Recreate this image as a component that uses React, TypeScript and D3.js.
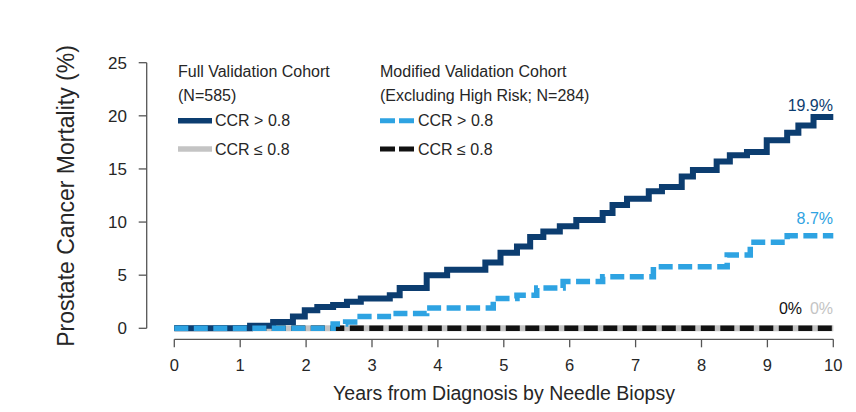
import React from "react";
import * as d3 from "d3";

// ---- Data ----
const xTicks = [0, 1, 2, 3, 4, 5, 6, 7, 8, 9, 10];
const yTicks = [0, 5, 10, 15, 20, 25];

// Full validation cohort, CCR > 0.8 (solid navy)
const fullHighTimes = [0, 1.15, 1.5, 1.8, 1.98, 2.17, 2.41, 2.62, 2.83, 3.27, 3.42, 3.83, 4.14, 4.72, 4.95, 5.2, 5.4, 5.6, 5.85, 6.1, 6.5, 6.65, 6.87, 7.2, 7.4, 7.7, 7.87, 8.23, 8.43, 8.69, 8.99, 9.3, 9.47, 9.7, 10];
const fullHighValues = [0, 0.25, 0.6, 1.1, 1.7, 2.0, 2.2, 2.5, 2.8, 3.1, 3.8, 5.0, 5.5, 6.2, 7.1, 7.7, 8.6, 9.1, 9.6, 10.2, 10.85, 11.6, 12.2, 12.9, 13.3, 14.3, 14.9, 15.7, 16.3, 16.6, 17.7, 18.4, 19.1, 19.9, 19.9];

// Full validation cohort, CCR <= 0.8 (solid gray)
const fullLowTimes = [0, 10];
const fullLowValues = [0, 0];

// Modified validation cohort, CCR > 0.8 (dashed light blue)
const modHighTimes = [0, 2.41, 2.6, 2.82, 3.32, 3.83, 4.84, 5.2, 5.5, 5.9, 6.5, 7.27, 8.39, 8.74, 9.3, 10];
const modHighValues = [0, 0.4, 0.6, 1.1, 1.4, 1.9, 2.8, 3.1, 3.8, 4.4, 4.85, 5.8, 6.9, 8.1, 8.7, 8.7];

// Modified validation cohort, CCR <= 0.8 (dashed black)
const modLowTimes = [0, 10];
const modLowValues = [0, 0];

const endLabels = ["19.9%", "8.7%", "0%", "0%"];

const NAVY = "#0c3d70";
const LIGHT = "#2ea3e2";
const GRAY = "#c4c4c4";
const BLACK = "#111111";
const TEXT = "#262626";
const AXIS = "#555555";

export default function App() {
  const x = d3.scaleLinear().domain([0, 10]).range([174.3, 833.3]);
  const y = d3.scaleLinear().domain([0, 25]).range([328.3, 62.7]);
  const line = d3
    .line<[number, number]>()
    .x((d) => x(d[0]))
    .y((d) => y(d[1]))
    .curve(d3.curveStepAfter);
  const pts = (t: number[], v: number[]) => t.map((tt, i) => [tt, v[i]] as [number, number]);

  const xAxisY = 339.3;
  const yAxisX = 146.7;
  const font = "Liberation Sans, Arial, Helvetica, sans-serif";
  const dash = "14 5.5";

  return (
    <svg width={856} height={412} style={{ display: "block", position: "absolute", left: 0, top: 0 }} fontFamily={font}>
      <rect width={856} height={412} fill="#ffffff" />

      {/* Y axis */}
      <line x1={yAxisX} x2={yAxisX} y1={y(25)} y2={y(0)} stroke={AXIS} strokeWidth={1.3} />
      {yTicks.map((t) => (
        <g key={"y" + t}>
          <line x1={yAxisX - 8} x2={yAxisX} y1={y(t)} y2={y(t)} stroke={AXIS} strokeWidth={1.3} />
          <text x={127} y={y(t)} dy="0.35em" textAnchor="end" fontSize={17} fill={TEXT}>
            {t}
          </text>
        </g>
      ))}
      <text
        transform={`translate(74, 196) rotate(-90)`}
        textAnchor="middle"
        fontSize={23}
        fill={TEXT}
      >
        Prostate Cancer Mortality (%)
      </text>

      {/* X axis */}
      <line x1={x(0)} x2={x(10)} y1={xAxisY} y2={xAxisY} stroke={AXIS} strokeWidth={1.3} />
      {xTicks.map((t) => (
        <g key={"x" + t}>
          <line x1={x(t)} x2={x(t)} y1={xAxisY} y2={xAxisY + 8} stroke={AXIS} strokeWidth={1.3} />
          <text x={x(t)} y={371} textAnchor="middle" fontSize={16.5} fill={TEXT}>
            {t}
          </text>
        </g>
      ))}
      <text x={504} y={400} textAnchor="middle" fontSize={19.5} fill={TEXT}>
        Years from Diagnosis by Needle Biopsy
      </text>

      {/* Curves */}
      <path d={line(pts(fullLowTimes, fullLowValues)) || ""} fill="none" stroke={GRAY} strokeWidth={6} />
      <path d={line(pts(modLowTimes, modLowValues)) || ""} fill="none" stroke={BLACK} strokeWidth={5.5} strokeDasharray={dash} />
      <path d={line(pts(fullHighTimes, fullHighValues)) || ""} fill="none" stroke={NAVY} strokeWidth={6} />
      <path d={line(pts(modHighTimes, modHighValues)) || ""} fill="none" stroke={LIGHT} strokeWidth={5.5} strokeDasharray={dash} />

      {/* End labels */}
      <text x={833} y={110.5} textAnchor="end" fontSize={16} fill={NAVY}>{endLabels[0]}</text>
      <text x={833} y={223.5} textAnchor="end" fontSize={16} fill={LIGHT}>{endLabels[1]}</text>
      <text x={802} y={313.5} textAnchor="end" fontSize={16} fill={BLACK}>{endLabels[2]}</text>
      <text x={833} y={313.5} textAnchor="end" fontSize={16} fill={GRAY}>{endLabels[3]}</text>

      {/* Legend */}
      <g fontSize={16} fill={TEXT}>
        <text x={178} y={76.5}>Full Validation Cohort</text>
        <text x={178} y={100.5}>(N=585)</text>
        <line x1={178} x2={212} y1={120.7} y2={120.7} stroke={NAVY} strokeWidth={5.5} />
        <text x={215} y={126.3}>CCR &gt; 0.8</text>
        <line x1={178} x2={212} y1={149} y2={149} stroke={GRAY} strokeWidth={5.5} />
        <text x={215} y={155}>CCR ≤ 0.8</text>

        <text x={380} y={76.5}>Modified Validation Cohort</text>
        <text x={380} y={100.5}>(Excluding High Risk; N=284)</text>
        <line x1={380} x2={414} y1={120.7} y2={120.7} stroke={LIGHT} strokeWidth={5} strokeDasharray="15 4" />
        <text x={418} y={126.3}>CCR &gt; 0.8</text>
        <line x1={380} x2={414} y1={149} y2={149} stroke={BLACK} strokeWidth={5} strokeDasharray="15 4" />
        <text x={418} y={155}>CCR ≤ 0.8</text>
      </g>
    </svg>
  );
}
